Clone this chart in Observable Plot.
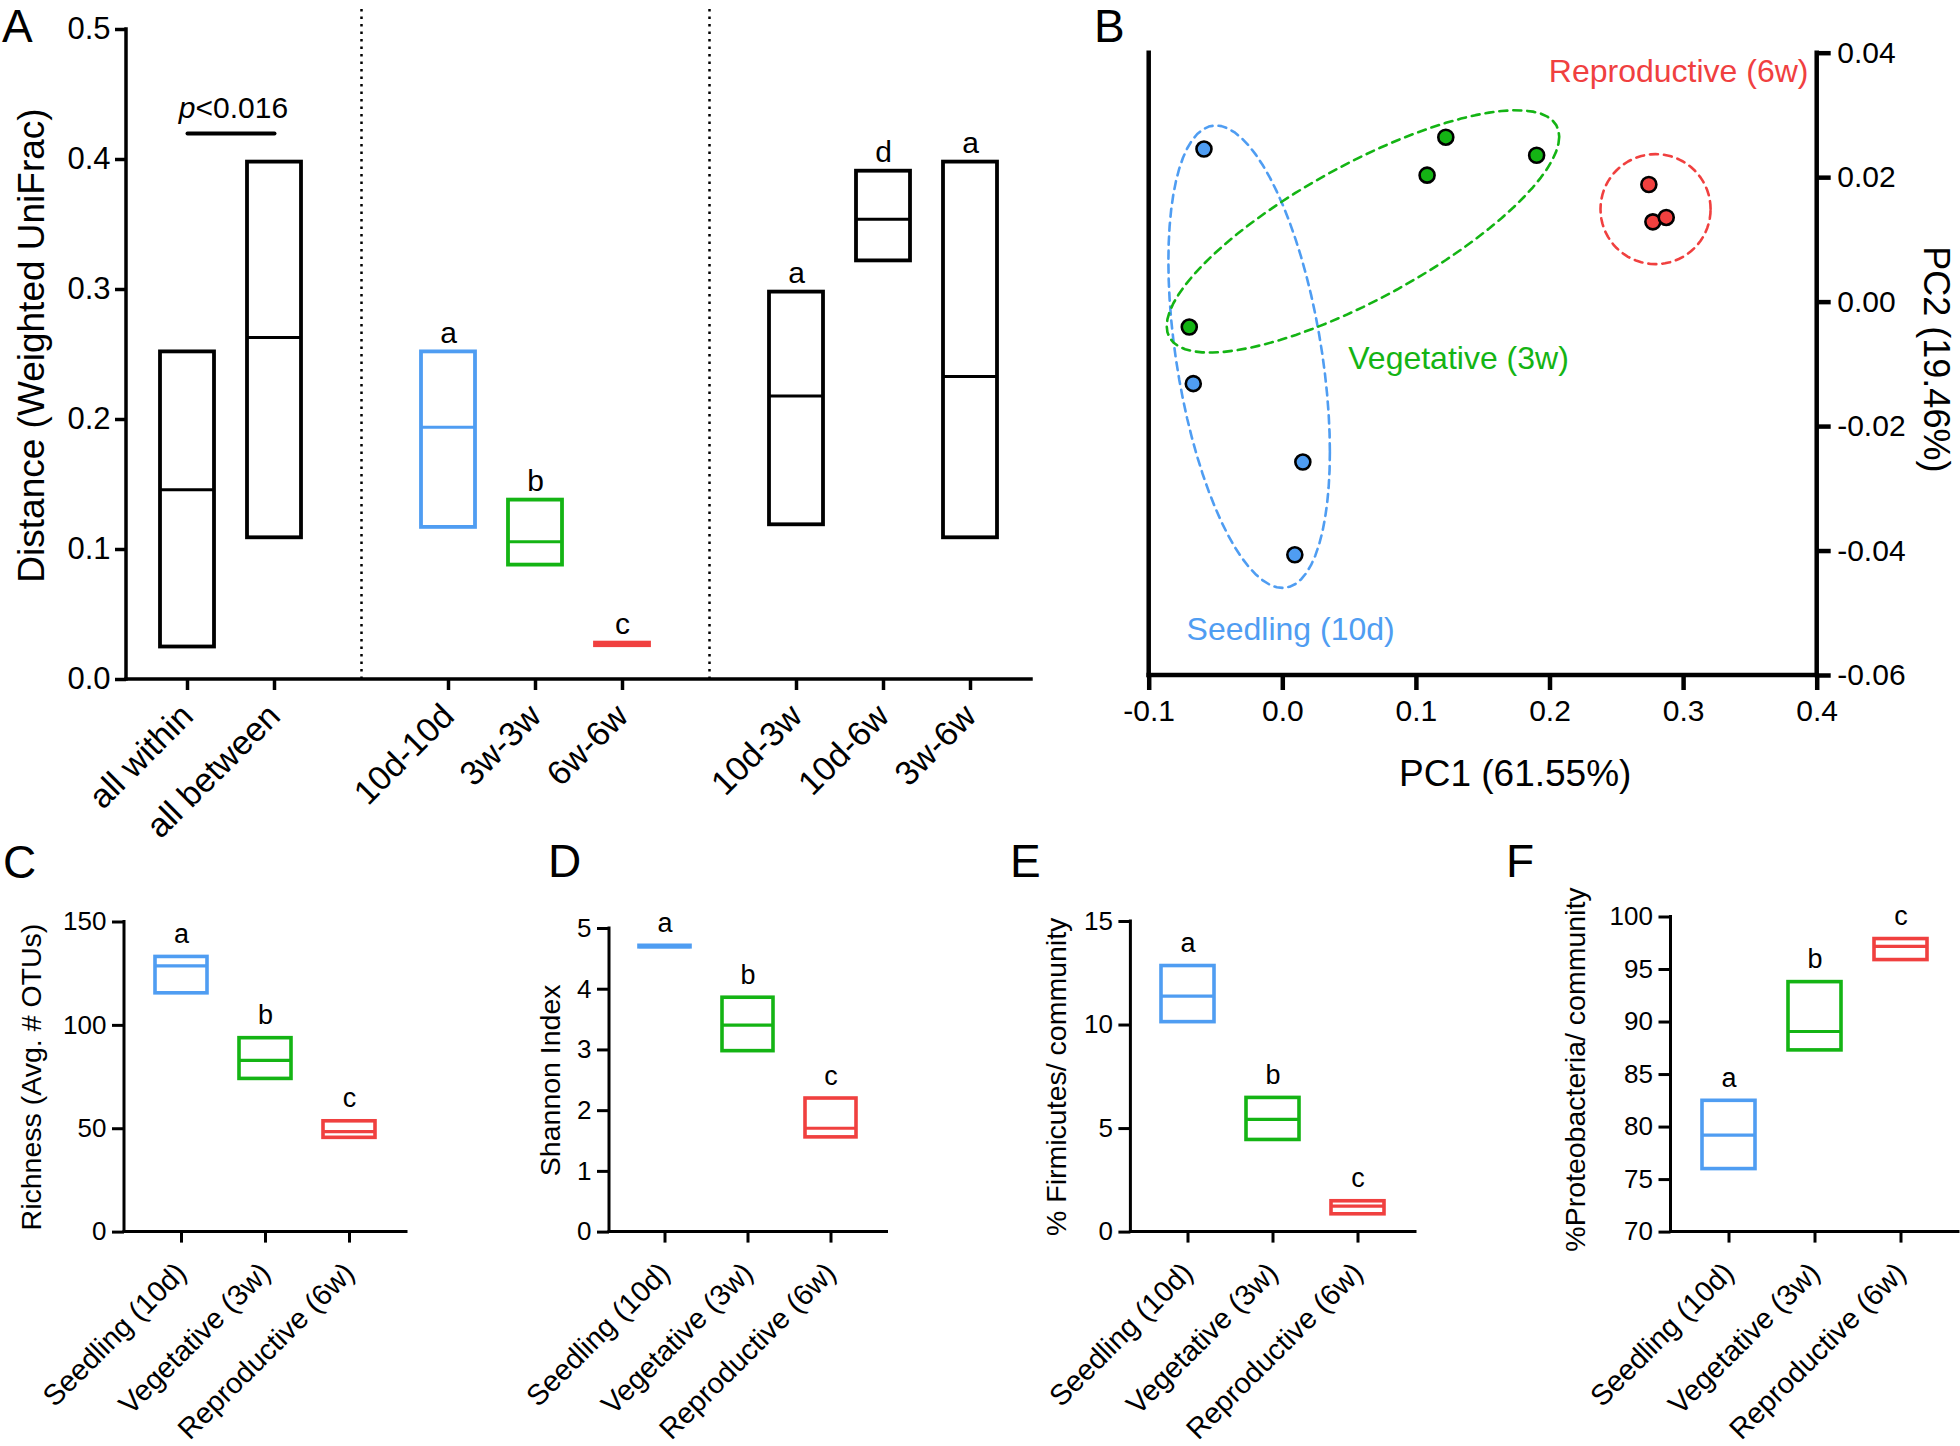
<!DOCTYPE html>
<html><head><meta charset="utf-8">
<script src="https://cdn.jsdelivr.net/npm/d3@7"></script>
<script src="https://cdn.jsdelivr.net/npm/@observablehq/plot@0.6"></script>
<style>
html,body{margin:0;padding:0;background:#fff;}
#fig{position:relative;width:1960px;height:1446px;overflow:hidden;font-family:"Liberation Sans",Arial,sans-serif;background:#fff;}
.panel{position:absolute;}
.panel svg{overflow:visible;max-width:none;background:transparent;}
.letter{position:absolute;font-size:46px;line-height:46px;color:#000;font-family:"Liberation Sans",Arial,sans-serif;}
</style></head><body><div id="fig"></div>
<script>
const BLUE = "#4f9df2", GREEN = "#14b414", RED = "#f0403f";
const FONT = "Liberation Sans, Arial, sans-serif";

// ---------- Panel A: weighted UniFrac distances ----------
const distCats   = ["all within","all between","10d-10d","3w-3w","6w-6w","10d-3w","10d-6w","3w-6w"];
const distLow    = [0.025, 0.109, 0.117, 0.088, 0.026, 0.119, 0.322, 0.109];
const distMed    = [0.146, 0.263, 0.194, 0.106, 0.027, 0.218, 0.354, 0.233];
const distHigh   = [0.252, 0.398, 0.252, 0.138, 0.028, 0.298, 0.391, 0.398];
const distColor  = ["black","black",BLUE,GREEN,RED,"black","black","black"];
const distLetter = ["","","a","b","c","a","d","a"];
const distSlots  = ["all within","all between","sep1","10d-10d","3w-3w","6w-6w","sep2","10d-3w","10d-6w","3w-6w"];
const distSeparators = ["sep1","sep2"];
const distTicks  = [0, 0.1, 0.2, 0.3, 0.4, 0.5];
const pValue = 0.42;

// ---------- Panel B: PCoA ----------
const pcGroupNames = ["Seedling (10d)","Vegetative (3w)","Reproductive (6w)"];
const pcGroupColors = [BLUE, GREEN, RED];
const pc1   = [-0.059,-0.067, 0.015, 0.009, 0.122, 0.190, 0.108,-0.070, 0.274, 0.277, 0.287];
const pc2   = [0.0246,-0.0131,-0.0257,-0.0406, 0.0265, 0.0236, 0.0204,-0.0040, 0.0189, 0.0129, 0.0136];
const pcGrp = [0,0,0,0, 1,1,1,1, 2,2,2];
const ellCx = [-0.0252, 0.0600, 0.2790];
const ellCy = [-0.00877, 0.01136, 0.01494];
const ellU  = [[0.06044,-0.01533],[0.1469,0.01521],[0.0412,0]];
const ellV  = [[0,-0.03385],[0,-0.01216],[0,0.00884]];
const pcXTicks = [-0.1, 0, 0.1, 0.2, 0.3, 0.4];
const pcYTicks = [-0.06, -0.04, -0.02, 0, 0.02, 0.04];
const pcLabelX = [-0.072, 0.049, 0.3935];
const pcLabelY = [-0.0543, -0.0107, 0.0353];

// ---------- Panels C-F ----------
const stages = ["Seedling (10d)","Vegetative (3w)","Reproductive (6w)"];
const stageColors = [BLUE, GREEN, RED];
const stageLetters = ["a","b","c"];
const richLow = [115.5, 74.1, 45.6], richMed = [128.8, 83.1, 48.6], richHigh = [133.1, 93.8, 53.6];
const shanLow = [4.69, 2.98, 1.56],  shanMed = [4.70, 3.41, 1.71],  shanHigh = [4.715, 3.86, 2.20];
const firmLow = [10.14, 4.45, 0.86], firmMed = [11.40, 5.44, 1.25], firmHigh = [12.85, 6.48, 1.49];
const protLow = [76.0, 87.3, 95.9],  protMed = [79.24, 89.1, 97.2], protHigh = [82.5, 93.8, 97.9];
const richTicks = [0, 50, 100, 150];
const shanTicks = [0, 1, 2, 3, 4, 5];
const firmTicks = [0, 5, 10, 15];
const protTicks = [70, 75, 80, 85, 90, 95, 100];

// axis lines drawn from the plot frame dimensions
function axisLines(sides, w) {
  return (index, scales, values, dim) => {
    const l = dim.marginLeft, t = dim.marginTop, r = dim.width - dim.marginRight, b = dim.height - dim.marginBottom;
    const g = d3.create("svg:g").attr("stroke", "black").attr("stroke-width", w).attr("stroke-linecap", "square").attr("fill", "none");
    if (sides.includes("bottom")) g.append("line").attr("x1", l).attr("x2", r).attr("y1", b).attr("y2", b);
    if (sides.includes("left")) g.append("line").attr("x1", l).attr("x2", l).attr("y1", t).attr("y2", b);
    if (sides.includes("right")) g.append("line").attr("x1", r).attr("x2", r).attr("y1", t).attr("y2", b);
    return g.node();
  };
}

const fig = document.getElementById("fig");
function place(svg, left, top, width) {
  const d = document.createElement("div");
  d.className = "panel";
  d.style.left = left + "px"; d.style.top = top + "px"; d.style.width = width + "px";
  d.appendChild(svg);
  fig.appendChild(d);
}
function letter(ch, left, top) {
  const d = document.createElement("div");
  d.className = "letter"; d.textContent = ch;
  d.style.left = left + "px"; d.style.top = top + "px";
  fig.appendChild(d);
}

// ---------- Panel A ----------
{
  const rows = distCats.map((c, i) => ({cat: c, lo: distLow[i], med: distMed[i], hi: distHigh[i], color: distColor[i], letter: distLetter[i]}));
  const svg = Plot.plot({
    width: 1050, height: 850,
    marginLeft: 126, marginRight: 19, marginTop: 29, marginBottom: 171,
    style: {fontFamily: FONT, fontSize: "31px", background: "transparent", overflow: "visible"},
    x: {type: "band", domain: distSlots, paddingInner: 0.38, paddingOuter: 0.35, axis: null},
    y: {domain: [0, 0.5], axis: null},
    color: {type: "identity"},
    marks: [
      Plot.ruleX(distSeparators, {x: d => d, y1: 0, y2: 0.517, stroke: "black", strokeWidth: 2.5, strokeDasharray: "2.5,5"}),
      axisLines(["left", "bottom"], 3.5),
      Plot.axisY({ticks: distTicks, tickFormat: d3.format(".1f"), tickSize: 11, tickPadding: 5, strokeWidth: 3.5, fontSize: 31, label: null}),
      Plot.axisX({ticks: distCats, tickSize: 11, tickPadding: 20, tickRotate: -45, strokeWidth: 3.5, fontSize: 34, label: null}),
      Plot.barY(rows, {x: "cat", y1: "lo", y2: "hi", fill: "none", stroke: "color", strokeWidth: 3.8}),
      Plot.tickY(rows, {x: "cat", y: "med", stroke: "color", strokeWidth: 3}),
      Plot.text(rows.filter(d => d.letter), {x: "cat", y: "hi", text: "letter", dy: -9, lineAnchor: "bottom", fontSize: 30}),
      Plot.line([{x: distCats[0], y: pValue}, {x: distCats[1], y: pValue}], {x: "x", y: "y", stroke: "black", strokeWidth: 4}),
      Plot.text([{x: distCats[0], y: pValue}], {x: "x", y: "y", text: () => "p", fontStyle: "italic", textAnchor: "end", lineAnchor: "bottom", dx: 8, dy: -16, fontSize: 30}),
      Plot.text([{x: distCats[0], y: pValue}], {x: "x", y: "y", text: () => "<0.016", textAnchor: "start", lineAnchor: "bottom", dx: 8, dy: -16, fontSize: 30}),
      Plot.text(["Distance (Weighted UniFrac)"], {text: d => d, frameAnchor: "left", textAnchor: "middle", lineAnchor: "middle", rotate: -90, dx: -94, dy: -9, fontSize: 37})
    ]
  });
  place(svg, 0, 0, 1050);
}

// ---------- Panel B ----------
{
  const pts = pc1.map((x, i) => ({x, y: pc2[i], color: pcGroupColors[pcGrp[i]]}));
  const ellMarks = ellCx.map((cx, k) => {
    const pts = d3.range(72).map(j => {
      const t = 2 * Math.PI * j / 72;
      return {x: cx + ellU[k][0] * Math.cos(t) + ellV[k][0] * Math.sin(t), y: ellCy[k] + ellU[k][1] * Math.cos(t) + ellV[k][1] * Math.sin(t)};
    });
    return Plot.line(pts, {x: "x", y: "y", curve: "linear-closed", stroke: pcGroupColors[k], strokeWidth: 2.6, strokeDasharray: "8,6"});
  });
  const labels = pcGroupNames.map((name, k) => ({name, x: pcLabelX[k], y: pcLabelY[k], color: pcGroupColors[k], anchor: k === 2 ? "end" : "start"}));
  const svg = Plot.plot({
    width: 880, height: 840,
    marginLeft: 68.7, marginRight: 143.3, marginTop: 52.7, marginBottom: 165,
    style: {fontFamily: FONT, fontSize: "30px", background: "transparent", overflow: "visible"},
    x: {domain: [-0.1, 0.4], axis: null},
    y: {domain: [-0.06, 0.04], axis: null},
    color: {type: "identity"},
    marks: [
      ...ellMarks,
      Plot.dot(pts, {x: "x", y: "y", r: 7.5, fill: "color", stroke: "black", strokeWidth: 2.6}),
      Plot.text(labels.filter(d => d.anchor === "start"), {x: "x", y: "y", text: "name", fill: "color", textAnchor: "start", lineAnchor: "bottom", fontSize: 32}),
      Plot.text(labels.filter(d => d.anchor === "end"), {x: "x", y: "y", text: "name", fill: "color", textAnchor: "end", lineAnchor: "bottom", fontSize: 32}),
      axisLines(["left", "bottom", "right"], 4.5),
      Plot.axisX({ticks: pcXTicks, tickFormat: d => d.toFixed(1), tickSize: 15, tickPadding: 9, strokeWidth: 4.5, fontSize: 30, label: null}),
      Plot.axisY({anchor: "right", ticks: pcYTicks, tickFormat: d => d.toFixed(2), tickSize: 13, tickPadding: 7, strokeWidth: 4.5, fontSize: 30, label: null}),
      Plot.text(["PC1 (61.55%)"], {text: d => d, frameAnchor: "bottom", textAnchor: "middle", lineAnchor: "middle", dx: 32, dy: 99, fontSize: 37}),
      Plot.text(["PC2 (19.46%)"], {text: d => d, frameAnchor: "right", textAnchor: "middle", lineAnchor: "middle", rotate: 90, dx: 118, dy: -5, fontSize: 36})
    ]
  });
  place(svg, 1080, 0, 880);
}

// ---------- Panels C-F ----------
function stagePanel(o) {
  const rows = stages.map((s, i) => ({stage: s, lo: o.low[i], med: o.med[i], hi: o.high[i], color: stageColors[i], letter: stageLetters[i]}));
  const svg = Plot.plot({
    width: o.width, height: 606,
    marginLeft: o.mLeft, marginRight: o.width - o.mLeft - o.frameW, marginTop: o.mTop, marginBottom: 214.4,
    style: {fontFamily: FONT, fontSize: "26px", background: "transparent", overflow: "visible"},
    x: {type: "band", domain: stages, paddingInner: 0.38, paddingOuter: 0.35, axis: null},
    y: {domain: o.domain, axis: null},
    color: {type: "identity"},
    marks: [
      axisLines(["left", "bottom"], 3),
      Plot.axisY({ticks: o.ticks, tickFormat: d => String(d), tickSize: 12, tickPadding: 6, strokeWidth: 3, fontSize: 26, label: null}),
      Plot.axisX({tickSize: 11, tickPadding: 25, tickRotate: -45, strokeWidth: 3, fontSize: 29, label: null}),
      Plot.barY(rows, {x: "stage", y1: "lo", y2: "hi", fill: "none", stroke: "color", strokeWidth: 3.6}),
      Plot.tickY(rows, {x: "stage", y: "med", stroke: "color", strokeWidth: 3.2}),
      Plot.text(rows, {x: "stage", y: "hi", text: "letter", dy: -14, lineAnchor: "bottom", fontSize: 27}),
      Plot.text([o.title], {text: d => d, frameAnchor: "left", textAnchor: "middle", lineAnchor: "middle", rotate: -90, dx: o.titleDx, dy: o.titleDy || 0, fontSize: 28.5})
    ]
  });
  place(svg, o.left, 840, o.width);
}

stagePanel({low: richLow, med: richMed, high: richHigh, domain: [0, 150], ticks: richTicks, title: "Richness (Avg. # OTUs)",
  left: 0, width: 500, mLeft: 124, frameW: 282, mTop: 81.5, titleDx: -93});
stagePanel({low: shanLow, med: shanMed, high: shanHigh, domain: [0, 5], ticks: shanTicks, title: "Shannon Index",
  left: 500, width: 480, mLeft: 109, frameW: 277.5, mTop: 88, titleDx: -59});
stagePanel({low: firmLow, med: firmMed, high: firmHigh, domain: [0, 15], ticks: firmTicks, title: "% Firmicutes/ community",
  left: 980, width: 520, mLeft: 150.4, frameW: 284.6, mTop: 81, titleDx: -74});
stagePanel({low: protLow, med: protMed, high: protHigh, domain: [70, 100], ticks: protTicks, title: "%Proteobacteria/ community",
  left: 1500, width: 460, mLeft: 170.5, frameW: 287.5, mTop: 76.5, titleDx: -95, titleDy: -5});

// panel letters
letter("A", 2, 3);
letter("B", 1094, 3);
letter("C", 3, 839);
letter("D", 548, 838);
letter("E", 1010, 838);
letter("F", 1506, 838);
</script></body></html>
